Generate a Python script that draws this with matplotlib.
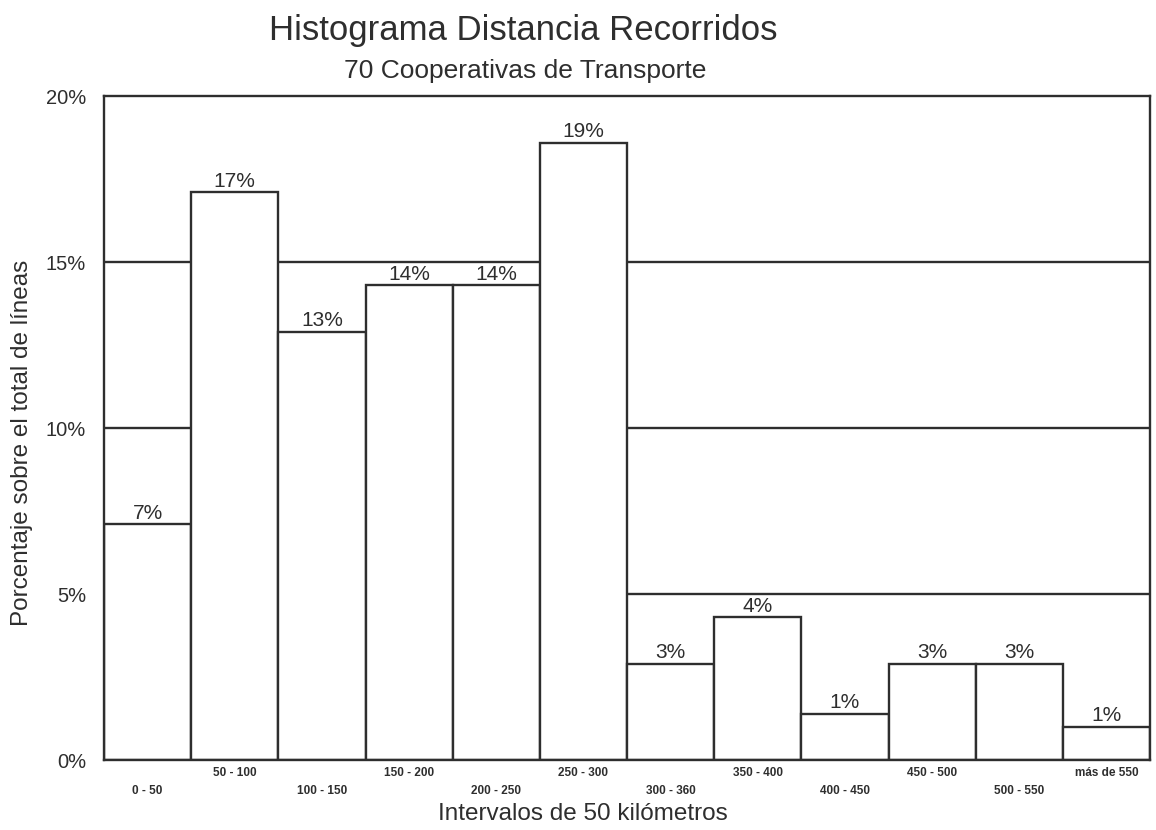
import numpy as np
import matplotlib.pyplot as plt

plt.rcParams['font.family'] = ['Liberation Sans', 'DejaVu Sans']

intervals = ['0 - 50', '50 - 100', '100 - 150', '150 - 200', '200 - 250',
             '250 - 300', '300 - 360', '350 - 400', '400 - 450', '450 - 500',
             '500 - 550', 'más de 550']
percent = [7.1, 17.1, 12.9, 14.3, 14.3, 18.6, 2.9, 4.3, 1.4, 2.9, 2.9, 1.0]
yticks = [0, 5, 10, 15, 20]

ink = '#2e2e2e'

fig = plt.figure(figsize=(11.56, 8.30), dpi=100)
ax = fig.add_axes([0.090, 0.0843, 0.9048, 0.8000])

x = np.arange(len(intervals))
ax.set_xlim(0, len(intervals))
ax.set_ylim(0, 20)

for yv in yticks[1:-1]:
    ax.axhline(yv, color=ink, lw=1.7, zorder=1)

bars = ax.bar(x, percent, width=1.0, align='edge', color='white',
              edgecolor=ink, linewidth=1.7, zorder=2)

for xi, p in zip(x, percent):
    ax.text(xi + 0.5, p + 0.05, '%d%%' % round(p), ha='center', va='bottom',
            fontsize=15, color=ink, zorder=3)

# staggered category labels
for xi, lab in zip(x, intervals):
    yoff = -0.40 if xi % 2 else -0.92
    ax.text(xi + 0.5, yoff, lab, ha='center', va='center', fontsize=8.5,
            weight='bold', color=ink, clip_on=False)

ax.set_xticks([])
ax.set_yticks(yticks)
ax.set_yticklabels(['%d%%' % v for v in yticks], fontsize=14.5, color=ink)
ax.tick_params(axis='y', length=0, pad=13)

for s in ax.spines.values():
    s.set_color(ink)
    s.set_linewidth(1.7)

ax.set_ylabel('Porcentaje sobre el total de líneas', fontsize=17.5, color=ink)
ax.yaxis.set_label_coords(-0.068, 0.477)
ax.set_xlabel('Intervalos de 50 kilómetros', fontsize=17.5, color=ink)
ax.xaxis.set_label_coords(0.458, -0.064)

fig.text(0.453, 0.963, 'Histograma Distancia Recorridos', ha='center',
         va='center', fontsize=25, color=ink)
fig.text(0.454, 0.915, '70 Cooperativas de Transporte', ha='center',
         va='center', fontsize=19, color=ink)

fig.savefig('out.png', dpi=100)
